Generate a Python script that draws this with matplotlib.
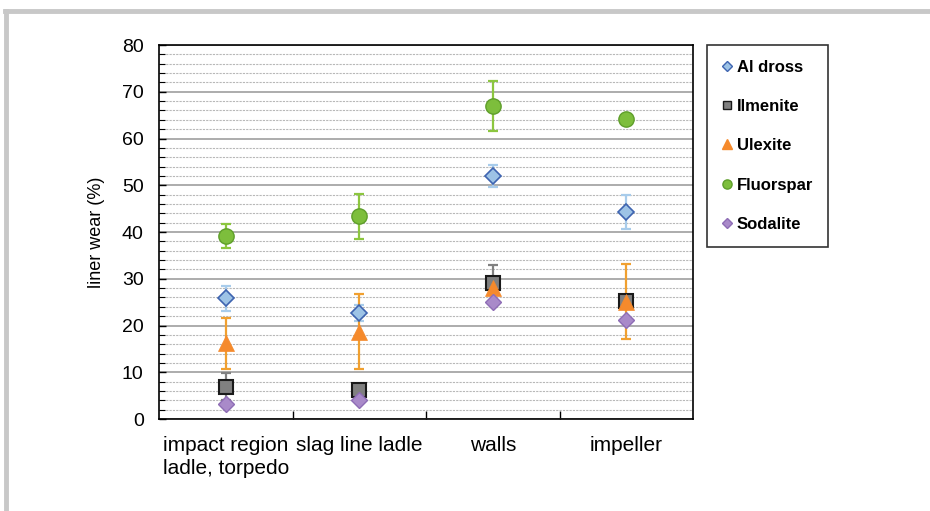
import matplotlib
matplotlib.use("Agg")
import matplotlib.pyplot as plt
from matplotlib.lines import Line2D
import numpy as np

plt.rcParams['font.family'] = ['Liberation Sans', 'DejaVu Sans']

categories = ["impact region\nladle, torpedo", "slag line ladle", "walls", "impeller"]
series = ["Al dross", "Ilmenite", "Ulexite", "Fluorspar", "Sodalite"]
values = {
    "Al dross":  [25.8, 22.7, 52.0, 44.3],
    "Ilmenite":  [6.9, 6.2, 29.1, 25.3],
    "Ulexite":   [16.2, 18.7, 28.0, 25.1],
    "Fluorspar": [39.1, 43.4, 67.0, 64.1],
    "Sodalite":  [3.2, 4.1, 25.0, 21.2],
}
errors = {
    "Al dross":  [2.7, 1.7, 2.3, 3.7],
    "Ilmenite":  [2.9, 0.0, 3.8, 0.0],
    "Ulexite":   [5.5, 8.0, 1.0, 8.0],
    "Fluorspar": [2.6, 4.8, 5.4, 0.0],
    "Sodalite":  [0.0, 0.0, 0.0, 0.0],
}
styles = {
    "Al dross":  dict(marker='D', ms=8.5, mfc='#9DC3E6', mec='#3E64B0', mew=1.2, ecolor='#A8CCEB'),
    "Ilmenite":  dict(marker='s', ms=10, mfc='#808080', mec='#1A1A1A', mew=1.5, ecolor='#808080'),
    "Ulexite":   dict(marker='^', ms=11, mfc='#F58A2C', mec='#F58A2C', mew=0.5, ecolor='#F0A030'),
    "Fluorspar": dict(marker='o', ms=11, mfc='#7DBE3C', mec='#5E9E2A', mew=1.0, ecolor='#8CC63F'),
    "Sodalite":  dict(marker='D', ms=8.5, mfc='#A98AC9', mec='#8E6DB5', mew=1.0, ecolor='#A98AC9'),
}

fig = plt.figure(figsize=(9.3, 5.11), dpi=100)
ax = fig.add_axes([159/930, 1-419/511, (693-159)/930, (419-45)/511])

x = np.arange(len(categories))
for s in series:
    st = styles[s]
    ax.errorbar(x, values[s], yerr=errors[s], fmt='none', ecolor=st['ecolor'],
                elinewidth=1.6, capsize=3.5, capthick=1.6, zorder=3)
    ax.plot(x, values[s], linestyle='none', marker=st['marker'], ms=st['ms'],
            mfc=st['mfc'], mec=st['mec'], mew=st['mew'], zorder=4, label=s)

ax.set_xlim(-0.5, len(categories) - 0.5)
ax.set_ylim(0, 80)
ax.set_yticks(np.arange(0, 81, 10))
ax.set_yticks(np.arange(0, 81, 2), minor=True)
ax.set_xticks(x)
ax.set_xticklabels(categories, fontsize=15, multialignment='left', linespacing=1.3)
ax.set_xticks(x[:-1] + 0.5, minor=True)
ax.tick_params(axis='x', which='major', length=0, pad=12)
ax.tick_params(axis='x', which='minor', direction='in', length=6, width=1, color='black')
ax.tick_params(axis='y', which='major', direction='in', length=5, width=1, labelsize=14, pad=11)
ax.tick_params(axis='y', which='minor', direction='in', length=4, width=0.8)
ax.grid(axis='y', which='major', color='#A6A6A6', linewidth=1.3, zorder=0)
ax.grid(axis='y', which='minor', color='#B8B8B8', linewidth=0.8, linestyle=(0, (2, 1)), zorder=0)
ax.set_axisbelow(True)
for sp in ax.spines.values():
    sp.set_color('black')
    sp.set_linewidth(1.2)
ax.set_ylabel("liner wear (%)", fontsize=13, labelpad=12)

handles = [Line2D([], [], linestyle='none', marker=styles[s]['marker'],
                  ms=styles[s]['ms'] * 0.6, mfc=styles[s]['mfc'], mec=styles[s]['mec'],
                  mew=1.0) for s in series]
leg = fig.legend(handles, series, loc='upper left',
                 bbox_to_anchor=(707/930, 1-45/511), frameon=True, fancybox=False,
                 prop={'weight': 'bold', 'size': 12}, labelspacing=1.45,
                 handlelength=0.6, handletextpad=0.3, borderpad=0.9, borderaxespad=0)
leg.get_frame().set_edgecolor('black')
leg.get_frame().set_linewidth(1.2)

# light gray frame of the figure (top and left)
fig.add_artist(Line2D([5/930, 1], [1-11/511, 1-11/511], color='#C8C8C8', lw=3.5, transform=fig.transFigure))
fig.add_artist(Line2D([6/930, 6/930], [0, 1-11/511], color='#C8C8C8', lw=3.5, transform=fig.transFigure))

fig.savefig("out.png", dpi=100)
